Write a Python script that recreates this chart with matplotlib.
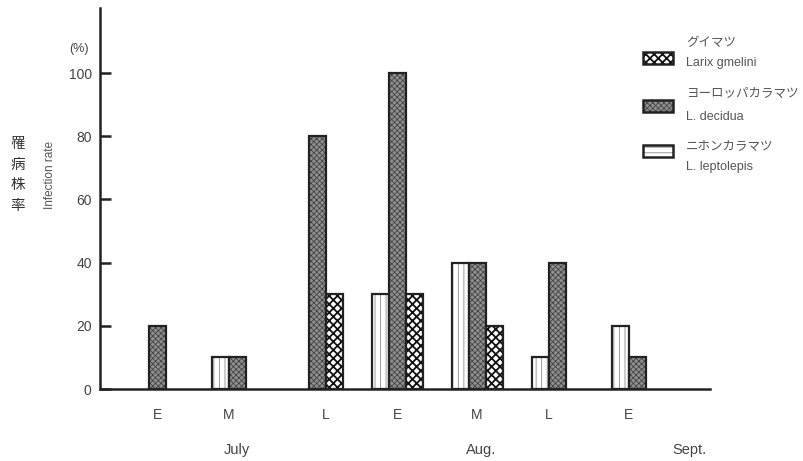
import matplotlib
matplotlib.use("Agg")
import matplotlib.pyplot as plt
from matplotlib.patches import Rectangle
import numpy as np

plt.rcParams['font.family'] = ['Liberation Sans', 'Noto Sans CJK JP']
plt.rcParams['hatch.linewidth'] = 0.6

periods = ["E", "M", "L", "E", "M", "L", "E"]
months = ["July", "Aug.", "Sept."]
month_pos = [1.0, 4.05, 6.65]

# infection rate (%) per ten-day period
leptolepis = [0, 10, 0, 30, 40, 10, 20]   # ニホンカラマツ
decidua = [20, 10, 80, 100, 40, 40, 10]   # ヨーロッパカラマツ
gmelini = [0, 0, 30, 30, 20, 0, 0]        # グイマツ

W, H = 804, 461
fig = plt.figure(figsize=(W / 100, H / 100), dpi=100)
ax = fig.add_axes([100 / W, 1 - 389 / H, 610 / W, 381 / H])

x = np.arange(len(periods))
w = 0.2125
ink = '#222222'

styles = {
    'lep': dict(fc='white', hatch='|||', hc='#8a8a8a', hlw=0.6),
    'dec': dict(fc='#8e8e8e', hatch='xxxxxx', hc='#3a3a3a', hlw=0.5),
    'gme': dict(fc='white', hatch='xxxx', hc='#111111', hlw=1.3),
}
series = [(leptolepis, -w, 'lep'), (decidua, 0, 'dec'), (gmelini, w, 'gme')]

def hbar(ax_, xs, ys, st):
    s = styles[st]
    with plt.rc_context({'hatch.linewidth': s['hlw']}):
        ax_.bar(xs, ys, w, color=s['fc'], hatch=s['hatch'], edgecolor=s['hc'], linewidth=0)
    ax_.bar(xs, ys, w, fill=False, edgecolor=ink, linewidth=1.6)

for vals, off, st in series:
    vals = np.array(vals)
    m = vals > 0
    hbar(ax, x[m] + off, vals[m], st)

# tick labels at center of bars present in each period
centers = []
for i in range(len(periods)):
    offs = [off for vals, off, st in series if vals[i] > 0]
    centers.append(i + np.mean(offs))

ax.set_xlim(-0.7125, 6.91)
ax.set_ylim(0, 120.6)
ax.set_yticks([0, 20, 40, 60, 80, 100])
ax.set_xticks(centers)
ax.set_xticklabels(periods)
ax.tick_params(axis='y', direction='in', length=8, width=1.8, pad=6, labelsize=10, colors=ink, labelcolor='#444444')
ax.tick_params(axis='x', length=0, pad=14, labelsize=10, labelcolor='#444444')
for sp in ['top', 'right']:
    ax.spines[sp].set_visible(False)
for sp in ['left', 'bottom']:
    ax.spines[sp].set_linewidth(1.8)
    ax.spines[sp].set_color(ink)

for m, p in zip(months, month_pos):
    ax.text(p, -0.16, m, transform=ax.get_xaxis_transform(), ha='center', va='center',
            fontsize=10.5, color='#444444')

def fx(px):
    return px / W

def fy(py):
    return 1 - py / H

fig.text(fx(79), fy(49), "(%)", ha='center', va='center', fontsize=9, color='#444444')
fig.text(fx(18), fy(175), "罹\n病\n株\n率", ha='center', va='center', fontsize=10.5,
         linespacing=1.6, color='#333333', family=['Noto Sans CJK JP'])
fig.text(fx(50), fy(175), "Infection rate", ha='center', va='center', rotation=90,
         fontsize=8.5, color='#555555')

# legend
legend = [
    ('gme', 'xxxx', "グイマツ", "Larix gmelini", 58, 42, 63),
    ('dec', 'xxxxxx', "ヨーロッパカラマツ", "L. decidua", 106, 93, 117),
    ('lep', '---', "ニホンカラマツ", "L. leptolepis", 151, 146, 167),
]
for st, hatch, jp, la, py, jy, ly in legend:
    s = styles[st]
    x0, y0 = fx(643), fy(py + 6)
    ww, hh = 30 / W, 12 / H
    with plt.rc_context({'hatch.linewidth': s['hlw']}):
        fig.patches.append(Rectangle((x0, y0), ww, hh, transform=fig.transFigure,
                                     facecolor=s['fc'], hatch=hatch, edgecolor=s['hc'], linewidth=0))
    fig.patches.append(Rectangle((x0, y0), ww, hh, transform=fig.transFigure,
                                 fill=False, edgecolor=ink, linewidth=1.8))
    fig.text(fx(686), fy(jy), jp, ha='left', va='center', fontsize=9, color='#555555',
             family=['Noto Sans CJK JP'])
    fig.text(fx(686), fy(ly), la, ha='left', va='center', fontsize=9, color='#555555')

fig.savefig("out.png", dpi=100)
